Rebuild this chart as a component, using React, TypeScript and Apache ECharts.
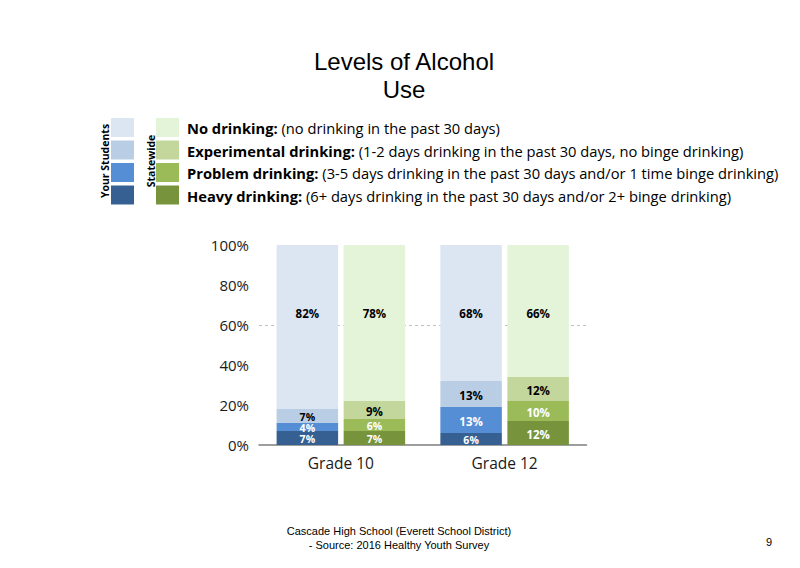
import React, { useEffect, useRef } from "react";
import * as echarts from "echarts";

const categories = ["Grade 10", "Grade 12"];
const ysHeavy = [7, 6];
const ysProblem = [4, 13];
const ysExperimental = [7, 13];
const ysNo = [82, 68];
const swHeavy = [7, 12];
const swProblem = [6, 10];
const swExperimental = [9, 12];
const swNo = [78, 66];
const referenceLine = 60;

const legendRows = [
  { bold: "No drinking:", rest: " (no drinking in the past 30 days)" },
  { bold: "Experimental drinking:", rest: " (1-2 days drinking in the past 30 days, no binge drinking)" },
  { bold: "Problem drinking:", rest: " (3-5 days drinking in the past 30 days and/or 1 time binge drinking)" },
  { bold: "Heavy drinking:", rest: " (6+ days drinking in the past 30 days and/or 2+ binge drinking)" },
];
const ysColors = ["#DCE6F2", "#B9CDE5", "#558ED5", "#376092"];
const swColors = ["#E3F4D9", "#C3D69B", "#9BBB59", "#77933C"];

const FONT = "'Open Sans', 'Noto Sans', sans-serif";
const ARIAL = "'Liberation Sans', Arial, sans-serif";

export default function App() {
  const ref = useRef<HTMLDivElement>(null);
  useEffect(() => {
    document.body.style.margin = "0";
    if (!ref.current) return;
    const chart = echarts.init(ref.current, undefined, { renderer: "svg" });

    const mk = (
      name: string,
      stack: string,
      data: number[],
      color: string,
      labelColor: string,
      top = false,
      extra: any = {}
    ) => ({
      name,
      type: "bar",
      stack,
      data,
      barWidth: 61.5,
      barGap: "9%",
      itemStyle: { color },
      label: {
        show: true,
        position: top ? "insideTop" : "inside",
        distance: top ? 62 : 5,
        offset: top ? [0, 0] : [0, 1],
        formatter: (p: any) => (p.value < 8 ? `{s|${p.value}%}` : `{n|${p.value}%}`),
        rich: {
          s: { color: labelColor, fontFamily: FONT, fontWeight: "bold", fontSize: 10.5, lineHeight: 9 },
          n: { color: labelColor, fontFamily: FONT, fontWeight: "bold", fontSize: 11.5, lineHeight: 12 },
        },
      },
      ...extra,
    });

    const legendGraphics: any[] = [];
    const rowY = [118, 140.5, 163, 185.5];
    rowY.forEach((y, i) => {
      legendGraphics.push({
        type: "rect",
        shape: { x: 111, y, width: 23, height: 19 },
        style: { fill: ysColors[i] },
      });
      legendGraphics.push({
        type: "rect",
        shape: { x: 156, y, width: 23, height: 19 },
        style: { fill: swColors[i] },
      });
      legendGraphics.push({
        type: "text",
        x: 187,
        y: y + 10,
        style: {
          text: `{b|${legendRows[i].bold}}{r|${legendRows[i].rest}}`,
          verticalAlign: "middle",
          rich: {
            b: { fontFamily: FONT, fontWeight: "bold", fontSize: 14.7, fill: "#000" },
            r: { fontFamily: FONT, fontSize: 14.7, fill: "#000" },
          },
        },
      });
    });
    legendGraphics.push({
      type: "text",
      x: 105,
      y: 161,
      rotation: Math.PI / 2,
      style: {
        text: "Your Students",
        fontFamily: FONT,
        fontWeight: "bold",
        fontSize: 10.5,
        fill: "#000",
        align: "center",
        verticalAlign: "middle",
      },
    });
    legendGraphics.push({
      type: "text",
      x: 151,
      y: 161,
      rotation: Math.PI / 2,
      style: {
        text: "Statewide",
        fontFamily: FONT,
        fontWeight: "bold",
        fontSize: 10.5,
        fill: "#000",
        align: "center",
        verticalAlign: "middle",
      },
    });

    chart.setOption({
      animation: false,
      backgroundColor: "#fff",
      title: {
        text: "Levels of Alcohol\nUse",
        left: 399,
        top: 42,
        textAlign: "center",
        textStyle: {
          fontFamily: ARIAL,
          fontWeight: "normal",
          fontSize: 24,
          lineHeight: 28,
          color: "#000",
        },
      },
      grid: { left: 259, right: 213.5, top: 245, bottom: 123 },
      xAxis: {
        type: "category",
        data: categories,
        axisLine: { lineStyle: { color: "#7f7f7f", width: 1.5 } },
        axisTick: { show: false },
        axisLabel: {
          fontFamily: FONT,
          fontSize: 15.5,
          color: "#1a1a1a",
          margin: 10,
        },
      },
      yAxis: {
        type: "value",
        min: 0,
        max: 100,
        interval: 20,
        axisLine: { show: false },
        axisTick: { show: false },
        splitLine: { show: false },
        axisLabel: {
          formatter: "{value}%",
          fontFamily: FONT,
          fontSize: 15,
          color: "#1a1a1a",
          margin: 10,
        },
      },
      series: [
        mk("Your Students Heavy", "ys", ysHeavy, ysColors[3], "#fff"),
        mk("Your Students Problem", "ys", ysProblem, ysColors[2], "#fff"),
        mk("Your Students Experimental", "ys", ysExperimental, ysColors[1], "#000"),
        mk("Your Students No", "ys", ysNo, ysColors[0], "#000", true, {
          markLine: {
            silent: true,
            symbol: "none",
            z: 1,
            label: { show: false },
            lineStyle: { color: "#c0c0c0", type: [3, 3], width: 1 },
            data: [{ yAxis: referenceLine }],
          },
        }),
        mk("Statewide Heavy", "sw", swHeavy, swColors[3], "#fff"),
        mk("Statewide Problem", "sw", swProblem, swColors[2], "#fff"),
        mk("Statewide Experimental", "sw", swExperimental, swColors[1], "#000"),
        mk("Statewide No", "sw", swNo, swColors[0], "#000", true),
      ],
      graphic: [
        ...legendGraphics,
        {
          type: "text",
          x: 399,
          y: 531,
          style: {
            text: "Cascade High School (Everett School District)",
            fontFamily: ARIAL,
            fontSize: 11,
            fill: "#000",
            align: "center",
            verticalAlign: "middle",
          },
        },
        {
          type: "text",
          x: 399,
          y: 545,
          style: {
            text: "- Source: 2016 Healthy Youth Survey",
            fontFamily: ARIAL,
            fontSize: 11,
            fill: "#000",
            align: "center",
            verticalAlign: "middle",
          },
        },
        {
          type: "text",
          x: 769,
          y: 542,
          style: {
            text: "9",
            fontFamily: ARIAL,
            fontSize: 11,
            fill: "#000",
            align: "center",
            verticalAlign: "middle",
          },
        },
      ],
    });
    return () => chart.dispose();
  }, []);
  return (
    <div
      ref={ref}
      style={{ position: "absolute", left: 0, top: 0, width: 800, height: 568 }}
    />
  );
}
